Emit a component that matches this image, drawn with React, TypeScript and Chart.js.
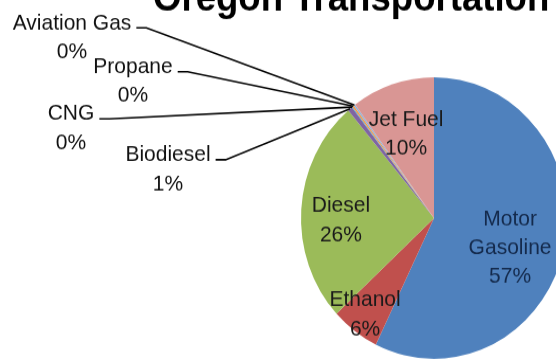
import { useEffect, useRef } from "react";
import { Chart, registerables } from "chart.js";

Chart.register(...registerables);

// ---- data ----
const categories = ["Motor Gasoline", "Ethanol", "Diesel", "Biodiesel", "CNG", "Propane", "Aviation Gas", "Jet Fuel"];
const labelLines = [["Motor", "Gasoline"], ["Ethanol"], ["Diesel"], ["Biodiesel"], ["CNG"], ["Propane"], ["Aviation Gas"], ["Jet Fuel"]];
const shares = [57.2, 5.9, 25.75, 0.55, 0.1, 0.2, 0.2, 10.1];
const titleText = "Oregon Transportation Fuel Use";

// ---- style ----
const colors = ["#4F81BD", "#C0504D", "#9BBB59", "#8064A2", "#4BACC6", "#F79646", "#95B3D7", "#D99694"];
const textColors = ["#142a4c", "#1a1a1a", "#1a1a1a", "#111", "#111", "#111", "#111", "#1a1a1a"];

const W = 700;
const H = 341;
const S = 361 / H; // vertical stretch of the picture

// placement of labels: inner -> fraction of radius + angle shift; outer -> text centre and first-line y
type Place = { kind: "in"; f: number; shift: number } | { kind: "out"; cx: number; y: number };
const places: Place[] = [
  { kind: "in", f: 0.61, shift: 7.4 },
  { kind: "in", f: 0.86, shift: 0.5 },
  { kind: "in", f: 0.7, shift: -4.9 },
  { kind: "out", cx: 168, y: 155 / S },
  { kind: "out", cx: 71, y: 114 / S },
  { kind: "out", cx: 133, y: 67 / S },
  { kind: "out", cx: 72, y: 23 / S },
  { kind: "in", f: 0.632, shift: -1.2 },
];

const FONT = "21px 'Liberation Sans', Arial, sans-serif";
const LH = 29 / S;

const labelPlugin = {
  id: "pieLabels",
  afterDraw(chart: any) {
    const ctx = chart.ctx as CanvasRenderingContext2D;
    const meta = chart.getDatasetMeta(0);
    const total = shares.reduce((a, b) => a + b, 0);
    ctx.save();
    // title
    ctx.font = "bold 36.6px 'Liberation Sans', Arial, sans-serif";
    ctx.fillStyle = "#000";
    ctx.textAlign = "left";
    ctx.textBaseline = "alphabetic";
    ctx.fillText(titleText, 153, 11 / S);

    ctx.font = FONT;
    ctx.textAlign = "center";
    ctx.textBaseline = "middle";
    meta.data.forEach((arc: any, i: number) => {
      const p = arc.getProps(["x", "y", "startAngle", "endAngle", "outerRadius"], true);
      const mid = (p.startAngle + p.endAngle) / 2;
      const pct = Math.round((shares[i] / total) * 100) + "%";
      const lines = [...labelLines[i], pct];
      const pl = places[i];
      ctx.fillStyle = textColors[i];
      if (pl.kind === "in") {
        const a = mid + (pl.shift * Math.PI) / 180;
        const cx = p.x + Math.cos(a) * p.outerRadius * pl.f;
        const cy = p.y + Math.sin(a) * p.outerRadius * pl.f;
        lines.forEach((t, k) => {
          ctx.fillText(t, cx, cy + (k - (lines.length - 1) / 2) * LH);
        });
      } else {
        lines.forEach((t, k) => {
          ctx.fillText(t, pl.cx, pl.y + k * LH);
        });
        const w = ctx.measureText(labelLines[i][0]).width;
        const sx = pl.cx + w / 2 + 5;
        const sy = pl.y + 4.5;
        const ex = p.x + Math.cos(mid) * p.outerRadius;
        const ey = p.y + Math.sin(mid) * p.outerRadius;
        ctx.strokeStyle = "#000";
        ctx.lineWidth = 1.6;
        ctx.beginPath();
        ctx.moveTo(sx, sy);
        ctx.lineTo(sx + 10, sy);
        ctx.lineTo(ex, ey);
        ctx.stroke();
      }
    });
    ctx.restore();
  },
};

export default function App() {
  const ref = useRef<HTMLCanvasElement>(null);
  useEffect(() => {
    const cy = 218 / S;
    const r = 133;
    const chart = new Chart(ref.current!, {
      type: "pie",
      data: {
        labels: categories,
        datasets: [{ data: shares, backgroundColor: colors, borderWidth: 0 }],
      },
      options: {
        responsive: false,
        animation: false,
        devicePixelRatio: 1,
        layout: { padding: { left: 434 - r, right: W - 434 - r, top: cy - r, bottom: H - cy - r } },
        plugins: { legend: { display: false }, tooltip: { enabled: false }, title: { display: false } },
      },
      plugins: [labelPlugin],
    });
    return () => chart.destroy();
  }, []);
  return (
    <div style={{ position: "fixed", left: 0, top: 0, width: 556, height: 361, overflow: "hidden", background: "#fff" }}>
      <div style={{ width: W, height: H, transform: `scaleY(${S})`, transformOrigin: "0 0" }}>
        <canvas ref={ref} width={W} height={H} style={{ display: "block", width: W, height: H }} />
      </div>
    </div>
  );
}
